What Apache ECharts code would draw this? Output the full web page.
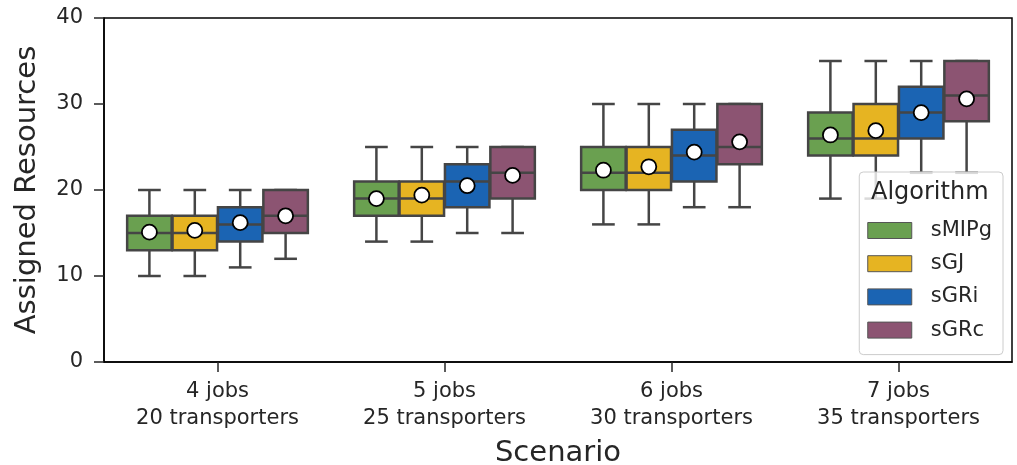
<!DOCTYPE html>
<html>
<head>
<meta charset="utf-8">
<script src="https://cdn.jsdelivr.net/npm/echarts@6/dist/echarts.min.js"></script>
<style>
  html, body { margin: 0; padding: 0; background: #fff; }
  #chart { width: 1017px; height: 465px; }
</style>
</head>
<body>
<div id="chart"></div>
<script>
// Scenario categories (x axis)
const scenarios = ['4 jobs\n20 transporters', '5 jobs\n25 transporters', '6 jobs\n30 transporters', '7 jobs\n35 transporters'];
const algorithms = ['sMIPg', 'sGJ', 'sGRi', 'sGRc'];
const colors = ['#6aa050', '#e6b422', '#1b64b3', '#8c5472'];

// Each row: [lower whisker, Q1, median, Q3, upper whisker, mean] per scenario
const sMIPg = [
  [10, 13, 15, 17, 20, 15.1],
  [14, 17, 19, 21, 25, 19.0],
  [16, 20, 22, 25, 30, 22.3],
  [19, 24, 26, 29, 35, 26.4]
];
const sGJ = [
  [10, 13, 15, 17, 20, 15.3],
  [14, 17, 19, 21, 25, 19.4],
  [16, 20, 22, 25, 30, 22.7],
  [19, 24, 26, 30, 35, 26.9]
];
const sGRi = [
  [11, 14, 16, 18, 20, 16.2],
  [15, 18, 21, 23, 25, 20.5],
  [18, 21, 24, 27, 30, 24.4],
  [22, 26, 29, 32, 35, 29.0]
];
const sGRc = [
  [12, 15, 17, 20, 20, 17.0],
  [15, 19, 22, 25, 25, 21.7],
  [18, 23, 25, 30, 30, 25.6],
  [22, 28, 31, 35, 35, 30.6]
];
const seriesValues = [sMIPg, sGJ, sGRi, sGRc];

const yTicks = { min: 0, max: 40, interval: 10 };

const edgeColor = '#454545';
const fontFamily = 'DejaVu Sans';

function boxRenderer(k) {
  return function (params, api) {
    const cat = api.value(0);
    const band = api.size([1, 0])[0];
    const w = band * 0.2;
    const cx = api.coord([cat, 0])[0] + (k - 1.5) * w;
    const yLow = api.coord([cat, api.value(1)])[1];
    const yQ1 = api.coord([cat, api.value(2)])[1];
    const yMed = api.coord([cat, api.value(3)])[1];
    const yQ3 = api.coord([cat, api.value(4)])[1];
    const yHigh = api.coord([cat, api.value(5)])[1];
    const yMean = api.coord([cat, api.value(6)])[1];
    const bw = w * 0.98;
    const cap = w * 0.5;
    const line = { stroke: edgeColor, lineWidth: 2.5, fill: null };
    return {
      type: 'group',
      children: [
        { type: 'line', shape: { x1: cx, y1: yQ3, x2: cx, y2: yHigh }, style: line },
        { type: 'line', shape: { x1: cx, y1: yQ1, x2: cx, y2: yLow }, style: line },
        { type: 'line', shape: { x1: cx - cap / 2, y1: yHigh, x2: cx + cap / 2, y2: yHigh }, style: line },
        { type: 'line', shape: { x1: cx - cap / 2, y1: yLow, x2: cx + cap / 2, y2: yLow }, style: line },
        { type: 'rect', shape: { x: cx - bw / 2, y: yQ3, width: bw, height: yQ1 - yQ3 },
          style: { fill: colors[k], stroke: edgeColor, lineWidth: 2.5 } },
        { type: 'line', shape: { x1: cx - bw / 2, y1: yMed, x2: cx + bw / 2, y2: yMed }, style: line },
        { type: 'circle', shape: { cx: cx, cy: yMean, r: 7.5 },
          style: { fill: '#ffffff', stroke: '#000000', lineWidth: 1.8 } }
      ]
    };
  };
}

const series = algorithms.map(function (name, k) {
  return {
    name: name,
    type: 'custom',
    renderItem: boxRenderer(k),
    itemStyle: { color: colors[k] },
    encode: { x: 0, y: [1, 2, 3, 4, 5, 6] },
    data: seriesValues[k].map(function (row, i) { return [i].concat(row); }),
    z: 2
  };
});

const chart = echarts.init(document.getElementById('chart'), null, { renderer: 'canvas' });
chart.setOption({
  animation: false,
  backgroundColor: '#ffffff',
  textStyle: { fontFamily: fontFamily },
  grid: {
    left: 104, right: 5, top: 18, bottom: 103,
    outerBoundsMode: 'none',
    containLabel: false,
    show: true, borderColor: '#000000', borderWidth: 1.5, backgroundColor: 'transparent'
  },
  title: {
    text: 'Algorithm',
    left: 866, top: 176,
    textStyle: { fontFamily: fontFamily, fontSize: 24, fontWeight: 'normal', color: '#262626' },
    z: 10
  },
  legend: {
    data: algorithms,
    orient: 'vertical',
    right: 14, top: 172,
    padding: [48, 11, 14, 8],
    itemWidth: 44, itemHeight: 16, itemGap: 12.2,
    icon: 'rect',
    itemStyle: { borderColor: '#555555', borderWidth: 1 },
    backgroundColor: 'rgba(255,255,255,0.8)',
    borderColor: '#cccccc', borderWidth: 1, borderRadius: 4,
    selectedMode: false,
    textStyle: { fontFamily: fontFamily, fontSize: 21, lineHeight: 21, color: '#262626', padding: [0, 0, 0, 14] }
  },
  xAxis: {
    type: 'category',
    data: scenarios,
    name: 'Scenario',
    nameLocation: 'middle',
    nameGap: 77,
    nameTextStyle: { fontFamily: fontFamily, fontSize: 29, color: '#262626' },
    axisLine: { show: true, lineStyle: { color: '#000000', width: 1.5 } },
    axisTick: { show: true, alignWithLabel: true, length: 10, lineStyle: { color: '#262626', width: 1.5 } },
    axisLabel: { fontFamily: fontFamily, fontSize: 21, color: '#262626', margin: 16, lineHeight: 27 },
    splitLine: { show: false }
  },
  yAxis: {
    type: 'value',
    min: yTicks.min, max: yTicks.max, interval: yTicks.interval,
    name: 'Assigned Resources',
    nameLocation: 'middle',
    nameGap: 62,
    nameTextStyle: { fontFamily: fontFamily, fontSize: 29, color: '#262626' },
    axisLine: { show: true, lineStyle: { color: '#000000', width: 1.5 } },
    axisTick: { show: true, length: 10, lineStyle: { color: '#262626', width: 1.5 } },
    axisLabel: { fontFamily: fontFamily, fontSize: 21, color: '#262626', margin: 21 },
    splitLine: { show: false }
  },
  series: series
});
</script>
</body>
</html>
